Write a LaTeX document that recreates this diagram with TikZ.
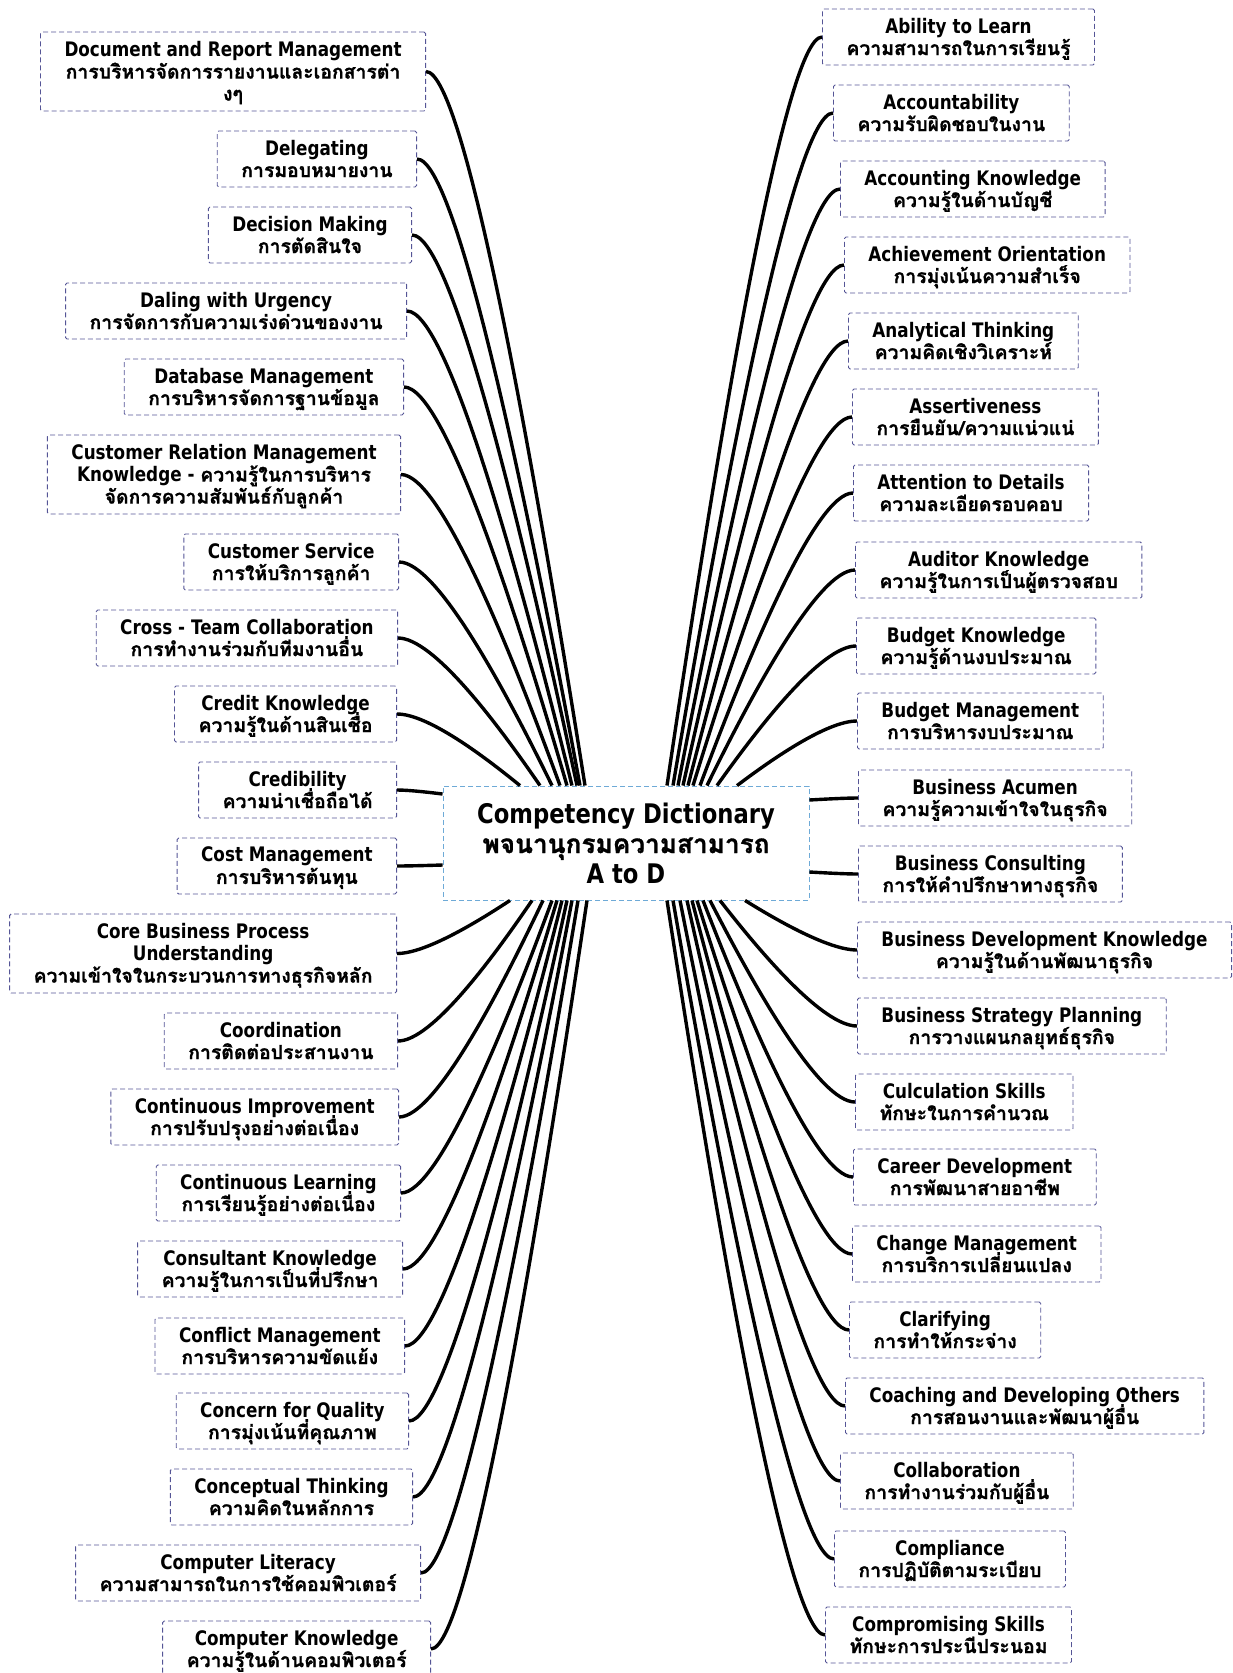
\documentclass[tikz,border=0pt]{standalone}
\usepackage{fontspec}
\setmainfont{DejaVu Sans}[FakeStretch=0.84]
\newfontfamily\thaifont[Script=Thai, Scale=0.97, BoldFeatures={FakeBold=1}]{Loma}
\usetikzlibrary{calc}

\definecolor{boxline}{RGB}{85,85,150}
\definecolor{hubline}{RGB}{110,170,215}
\newcommand{\tha}[1]{{\thaifont\smash{#1}\rule[-1pt]{0pt}{1pt}}}
\newcommand{\itemfont}{\fontsize{20}{22}\selectfont\bfseries\lineskiplimit=-30pt\relax}
\newcommand{\hubfont}{\fontsize{27}{30}\selectfont\bfseries\lineskiplimit=-30pt\relax}

\begin{document}
\begin{tikzpicture}[x=1pt, y=1pt,
    item/.style={draw=boxline, dash pattern=on 5pt off 3pt, line width=0.9pt,
                 rounded corners=1.5pt, inner xsep=24pt, minimum height=56pt,
                 align=center, font=\itemfont},
    litem/.style={item, anchor=east},
    ritem/.style={item, anchor=west},
    hub/.style={draw=hubline, dash pattern=on 5pt off 3pt, line width=0.9pt,
                fill=white, minimum width=366pt, minimum height=114pt,
                align=center, font=\hubfont},
    branch/.style={line width=3.4pt, to path={let \p1=(\tikztostart), \p2=(\tikztotarget) in
        .. controls (\x1+0.3*\x2-0.3*\x1, \y1+0.42*\y2-0.42*\y1)
           and (0.75*\x2+0.25*\x1, \y2) .. (\p2)}}]
  \useasboundingbox (0,0) rectangle (1232,-1673);

  \node[hub] (cd) at (626,-843)
    {Competency Dictionary\\\tha{พจนานุกรมความสามารถ}\\A to D};

  % left column
  \node[litem, minimum height=79pt] (doc) at (426,-71.5)
    {Document and Report Management\\\tha{การบริหารจัดการรายงานและเอกสารต่า}\\\tha{งๆ}};
  \node[litem] (dlg) at (417,-159) {Delegating\\\tha{การมอบหมายงาน}};
  \node[litem] (dec) at (412,-235) {Decision Making\\\tha{การตัดสินใจ}};
  \node[litem] (urg) at (407,-311) {Daling with Urgency\\\tha{การจัดการกับความเร่งด่วนของงาน}};
  \node[litem] (dbm) at (404,-387) {Database Management\\\tha{การบริหารจัดการฐานข้อมูล}};
  \node[litem, minimum height=79pt] (crm) at (401,-474.5)
    {Customer Relation Management\\Knowledge - \tha{ความรู้ในการบริหาร}\\\tha{จัดการความสัมพันธ์กับลูกค้า}};
  \node[litem] (csv) at (399,-562) {Customer Service\\\tha{การให้บริการลูกค้า}};
  \node[litem] (ctc) at (398,-638) {Cross - Team Collaboration\\\tha{การทำงานร่วมกับทีมงานอื่น}};
  \node[litem] (crk) at (397,-714) {Credit Knowledge\\\tha{ความรู้ในด้านสินเชื่อ}};
  \node[litem] (crd) at (397,-790) {Credibility\\\tha{ความน่าเชื่อถือได้}};
  \node[litem] (cost) at (397,-866) {Cost Management\\\tha{การบริหารต้นทุน}};
  \node[litem, minimum height=79pt] (cbp) at (397,-953.5)
    {Core Business Process\\Understanding\\\tha{ความเข้าใจในกระบวนการทางธุรกิจหลัก}};
  \node[litem] (coord) at (398,-1041) {Coordination\\\tha{การติดต่อประสานงาน}};
  \node[litem] (cimp) at (399,-1117) {Continuous Improvement\\\tha{การปรับปรุงอย่างต่อเนื่อง}};
  \node[litem] (clrn) at (401,-1193) {Continuous Learning\\\tha{การเรียนรู้อย่างต่อเนื่อง}};
  \node[litem] (cons) at (403,-1269) {Consultant Knowledge\\\tha{ความรู้ในการเป็นที่ปรึกษา}};
  \node[litem] (cnfl) at (405,-1346) {Conflict Management\\\tha{การบริหารความขัดแย้ง}};
  \node[litem] (cqual) at (409,-1421) {Concern for Quality\\\tha{การมุ่งเน้นที่คุณภาพ}};
  \node[litem] (cthk) at (413,-1497) {Conceptual Thinking\\\tha{ความคิดในหลักการ}};
  \node[litem] (clit) at (421,-1573) {Computer Literacy\\\tha{ความสามารถในการใช้คอมพิวเตอร์}};
  \node[litem] (cknw) at (431,-1649) {Computer Knowledge\\\tha{ความรู้ในด้านคอมพิวเตอร์}};

  % right column
  \node[ritem] (abl) at (822,-37) {Ability to Learn\\\tha{ความสามารถในการเรียนรู้}};
  \node[ritem] (acct) at (833,-113) {Accountability\\\tha{ความรับผิดชอบในงาน}};
  \node[ritem] (acck) at (840,-189) {Accounting Knowledge\\\tha{ความรู้ในด้านบัญชี}};
  \node[ritem] (ach) at (844,-265) {Achievement Orientation\\\tha{การมุ่งเน้นความสำเร็จ}};
  \node[ritem] (anl) at (848,-341) {Analytical Thinking\\\tha{ความคิดเชิงวิเคราะห์}};
  \node[ritem] (asr) at (852,-417) {Assertiveness\\\tha{การยืนยัน/ความแน่วแน่}};
  \node[ritem] (att) at (853,-493) {Attention to Details\\\tha{ความละเอียดรอบคอบ}};
  \node[ritem] (aud) at (855,-570) {Auditor Knowledge\\\tha{ความรู้ในการเป็นผู้ตรวจสอบ}};
  \node[ritem] (bk) at (856,-646) {Budget Knowledge\\\tha{ความรู้ด้านงบประมาณ}};
  \node[ritem] (bm) at (857,-721) {Budget Management\\\tha{การบริหารงบประมาณ}};
  \node[ritem] (bac) at (858,-798) {Business Acumen\\\tha{ความรู้ความเข้าใจในธุรกิจ}};
  \node[ritem] (bcs) at (858,-874) {Business Consulting\\\tha{การให้คำปรึกษาทางธุรกิจ}};
  \node[ritem] (bdk) at (857,-950) {Business Development Knowledge\\\tha{ความรู้ในด้านพัฒนาธุรกิจ}};
  \node[ritem] (bsp) at (857,-1026) {Business Strategy Planning\\\tha{การวางแผนกลยุทธ์ธุรกิจ}};
  \node[ritem] (calc) at (855,-1102) {Culculation Skills\\\tha{ทักษะในการคำนวณ}};
  \node[ritem] (car) at (853,-1177) {Career Development\\\tha{การพัฒนาสายอาชีพ}};
  \node[ritem] (chg) at (852,-1254) {Change Management\\\tha{การบริการเปลี่ยนแปลง}};
  \node[ritem] (clar) at (849,-1330) {Clarifying\\\tha{การทำให้กระจ่าง}};
  \node[ritem] (coach) at (845,-1406) {Coaching and Developing Others\\\tha{การสอนงานและพัฒนาผู้อื่น}};
  \node[ritem] (collab) at (840,-1481) {Collaboration\\\tha{การทำงานร่วมกับผู้อื่น}};
  \node[ritem] (compl) at (834,-1559) {Compliance\\\tha{การปฏิบัติตามระเบียบ}};
  \node[ritem] (compr) at (825,-1635) {Compromising Skills\\\tha{ทักษะการประนีประนอม}};

  % connectors, left
  \draw[branch] ([xshift=-41pt]cd.north) to (doc.east);
  \draw[branch] ([xshift=-46pt]cd.north) to (dlg.east);
  \draw[branch] ([xshift=-49pt]cd.north) to (dec.east);
  \draw[branch] ([xshift=-54pt]cd.north) to (urg.east);
  \draw[branch] ([xshift=-59pt]cd.north) to (dbm.east);
  \draw[branch] ([xshift=-66pt]cd.north) to (crm.east);
  \draw[branch] ([xshift=-74pt]cd.north) to (csv.east);
  \draw[branch] ([xshift=-86pt]cd.north) to (ctc.east);
  \draw[branch] ([xshift=-106pt]cd.north) to (crk.east);
  \draw[branch] ([yshift=49pt]cd.west) to (crd.east);
  \draw[branch] ([yshift=-22pt]cd.west) to (cost.east);
  \draw[branch] ([xshift=-116pt]cd.south) to (cbp.east);
  \draw[branch] ([xshift=-94pt]cd.south) to (coord.east);
  \draw[branch] ([xshift=-83pt]cd.south) to (cimp.east);
  \draw[branch] ([xshift=-74pt]cd.south) to (clrn.east);
  \draw[branch] ([xshift=-69pt]cd.south) to (cons.east);
  \draw[branch] ([xshift=-64pt]cd.south) to (cnfl.east);
  \draw[branch] ([xshift=-59pt]cd.south) to (cqual.east);
  \draw[branch] ([xshift=-54pt]cd.south) to (cthk.east);
  \draw[branch] ([xshift=-48pt]cd.south) to (clit.east);
  \draw[branch] ([xshift=-39pt]cd.south) to (cknw.east);

  % connectors, right
  \draw[branch] ([xshift=41pt]cd.north) to (abl.west);
  \draw[branch] ([xshift=47pt]cd.north) to (acct.west);
  \draw[branch] ([xshift=52pt]cd.north) to (acck.west);
  \draw[branch] ([xshift=57pt]cd.north) to (ach.west);
  \draw[branch] ([xshift=62pt]cd.north) to (anl.west);
  \draw[branch] ([xshift=67pt]cd.north) to (asr.west);
  \draw[branch] ([xshift=74pt]cd.north) to (att.west);
  \draw[branch] ([xshift=81pt]cd.north) to (aud.west);
  \draw[branch] ([xshift=91pt]cd.north) to (bk.west);
  \draw[branch] ([xshift=111pt]cd.north) to (bm.west);
  \draw[branch] ([yshift=43pt]cd.east) to (bac.west);
  \draw[branch] ([yshift=-29pt]cd.east) to (bcs.west);
  \draw[branch] ([xshift=119pt]cd.south) to (bdk.west);
  \draw[branch] ([xshift=94pt]cd.south) to (bsp.west);
  \draw[branch] ([xshift=84pt]cd.south) to (calc.west);
  \draw[branch] ([xshift=77pt]cd.south) to (car.west);
  \draw[branch] ([xshift=71pt]cd.south) to (chg.west);
  \draw[branch] ([xshift=66pt]cd.south) to (clar.west);
  \draw[branch] ([xshift=61pt]cd.south) to (coach.west);
  \draw[branch] ([xshift=54pt]cd.south) to (collab.west);
  \draw[branch] ([xshift=47pt]cd.south) to (compl.west);
  \draw[branch] ([xshift=41pt]cd.south) to (compr.west);
\end{tikzpicture}
\end{document}
